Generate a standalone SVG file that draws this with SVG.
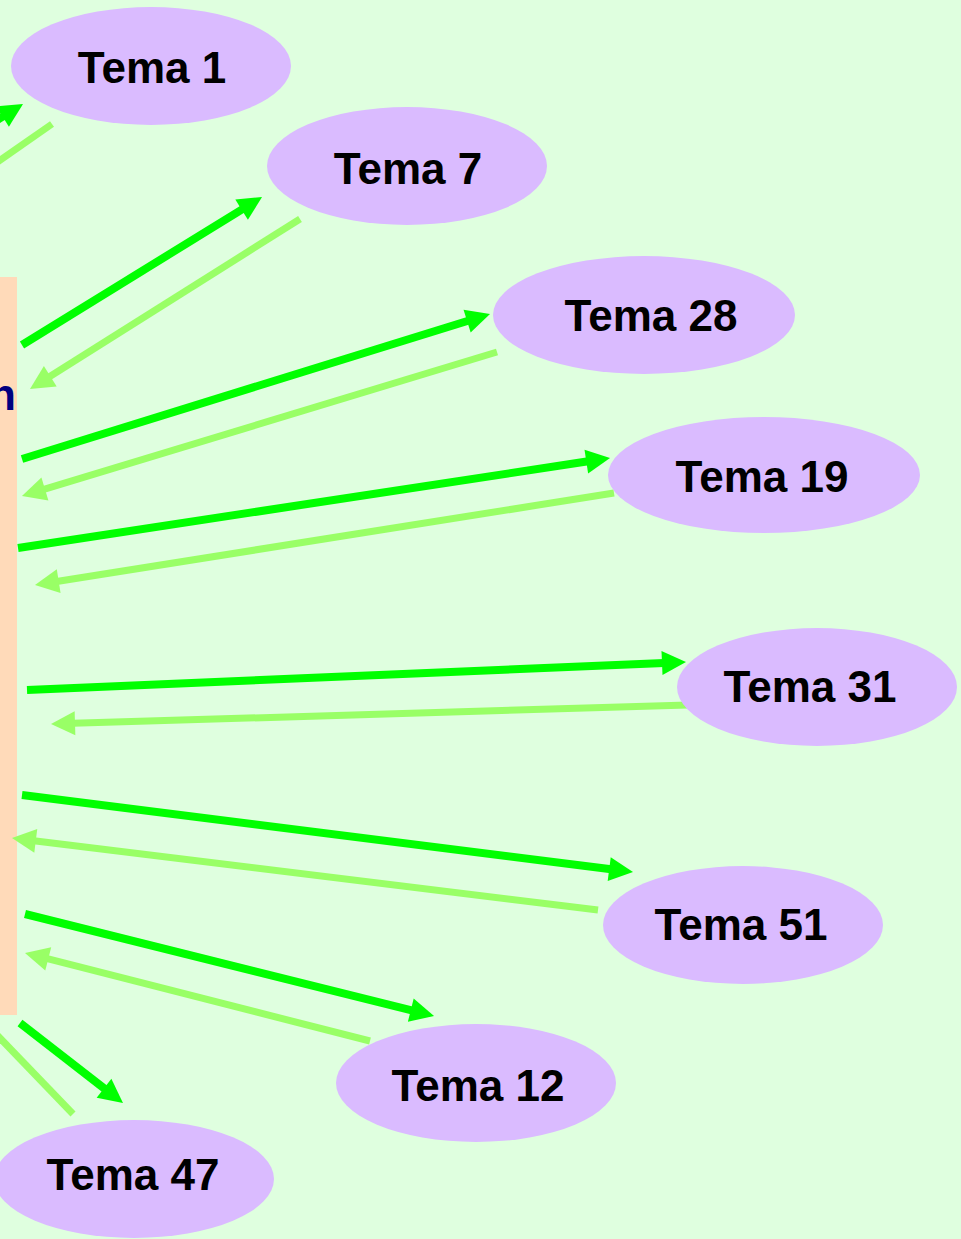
<svg xmlns="http://www.w3.org/2000/svg" width="961" height="1239" viewBox="0 0 961 1239">
<style>
.node ellipse{fill:#DABBFF}
.node text{font-family:"Liberation Sans",Arial,sans-serif;font-weight:bold;font-size:44px;fill:#000;text-anchor:middle}
.out{stroke:#00FF00;stroke-width:8;fill:none;marker-end:url(#hd)}
.back{stroke:#99FF66;stroke-width:7;fill:none;marker-end:url(#hl)}
</style>
<defs>
<marker id="hd" markerUnits="userSpaceOnUse" markerWidth="24" markerHeight="24" viewBox="0 0 24 24" refX="2" refY="12" orient="auto" overflow="visible"><path d="M0,0 L24,12 L0,24 z" fill="#00FF00"/></marker>
<marker id="hl" markerUnits="userSpaceOnUse" markerWidth="24" markerHeight="24" viewBox="0 0 24 24" refX="2" refY="12" orient="auto" overflow="visible"><path d="M0,0 L24,12 L0,24 z" fill="#99FF66"/></marker>
</defs>
<rect width="961" height="1239" fill="#DFFFDF"/>
<g id="center">
<rect x="0" y="277" width="17" height="738" fill="#FFDAB9"/>
<text x="16" y="410" font-family="Liberation Sans,Arial,sans-serif" font-weight="bold" font-size="44" fill="#000080" text-anchor="end">n</text>
</g>
<g id="connectors">
<line class="out" x1="-28" y1="135.5" x2="4.3" y2="115.6"/>
<line class="back" x1="52" y1="124" x2="-30" y2="181"/>
<line class="out" x1="22" y1="345" x2="243.3" y2="208.6"/>
<line class="back" x1="300" y1="219" x2="48.6" y2="377.3"/>
<line class="out" x1="22" y1="459" x2="469" y2="320.5"/>
<line class="back" x1="497" y1="352" x2="43" y2="489.6"/>
<line class="out" x1="18" y1="548" x2="588.3" y2="461.3"/>
<line class="back" x1="614" y1="493" x2="56.7" y2="581.5"/>
<line class="out" x1="27" y1="690" x2="664" y2="662.9"/>
<line class="back" x1="688" y1="705" x2="73" y2="723.3"/>
<line class="out" x1="22" y1="795" x2="611.2" y2="869.3"/>
<line class="back" x1="598" y1="910" x2="33.8" y2="840.7"/>
<line class="out" x1="25" y1="914" x2="412.7" y2="1010.7"/>
<line class="back" x1="370" y1="1041" x2="46.3" y2="958.4"/>
<line class="out" x1="20" y1="1023" x2="105.6" y2="1089.5"/>
<line class="back" x1="73" y1="1114" x2="-30" y2="1007"/>
</g>
<g id="tema1" class="node"><ellipse cx="151" cy="66" rx="140" ry="59"/><text x="152" y="83">Tema 1</text></g>
<g id="tema7" class="node"><ellipse cx="407" cy="166" rx="140" ry="59"/><text x="408" y="184">Tema 7</text></g>
<g id="tema28" class="node"><ellipse cx="644" cy="315" rx="151" ry="59"/><text x="651" y="331">Tema 28</text></g>
<g id="tema19" class="node"><ellipse cx="764" cy="475" rx="156" ry="58"/><text x="762" y="492">Tema 19</text></g>
<g id="tema31" class="node"><ellipse cx="817" cy="687" rx="140" ry="59"/><text x="810" y="702">Tema 31</text></g>
<g id="tema51" class="node"><ellipse cx="743" cy="925" rx="140" ry="59"/><text x="741" y="940">Tema 51</text></g>
<g id="tema12" class="node"><ellipse cx="476" cy="1083" rx="140" ry="59"/><text x="478" y="1101">Tema 12</text></g>
<g id="tema47" class="node"><ellipse cx="134" cy="1179" rx="140" ry="59"/><text x="133" y="1190">Tema 47</text></g>
</svg>
